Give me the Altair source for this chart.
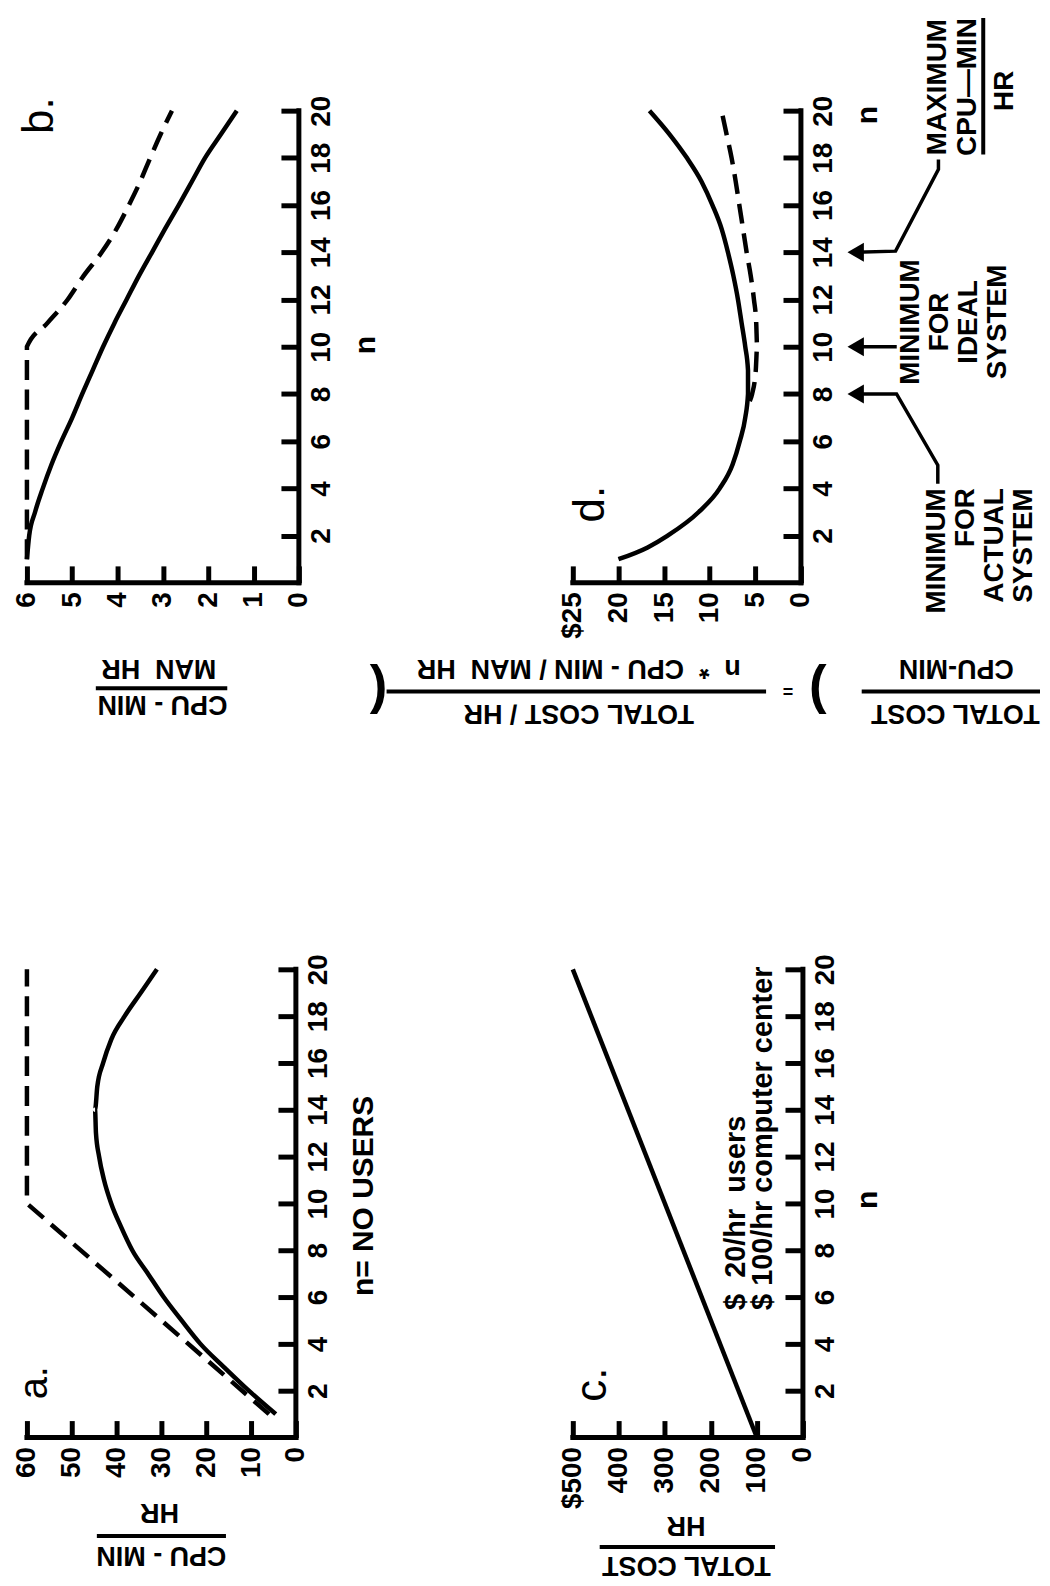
import altair as alt
import pandas as pd

FONT = "Liberation Sans"

# ---------------- data ----------------
N_TICKS = [2, 4, 6, 8, 10, 12, 14, 16, 18, 20]

# panel a : CPU-MIN / HR
A_TICKS = [0, 10, 20, 30, 40, 50, 60]
A_LABELS = ["0", "10", "20", "30", "40", "50", "60"]
A_ACTUAL_N = [1, 2, 3, 4, 5, 6, 7, 8, 9, 10, 11, 12, 13, 14, 15, 16, 17, 18, 19, 20]
A_ACTUAL_V = [4.5, 10.5, 16.0, 21.3, 25.5, 29.5, 33.0, 36.5, 39.0, 41.2,
              42.8, 43.9, 44.6, 44.8, 44.3, 43.0, 41.2, 38.2, 34.6, 31.0]
A_IDEAL_N = [1, 10, 20]
A_IDEAL_V = [6, 60, 60]

# panel b : CPU-MIN / MAN HR
B_TICKS = [0, 1, 2, 3, 4, 5, 6]
B_LABELS = ["0", "1", "2", "3", "4", "5", "6"]
B_ACTUAL_N = [1, 2, 3, 4, 5, 6, 7, 8, 9, 10, 11, 12, 13, 14, 15, 16, 17, 18, 19, 20]
B_ACTUAL_V = [6.0, 5.95, 5.82, 5.65, 5.46, 5.24, 5.0, 4.78, 4.55, 4.32,
              4.07, 3.8, 3.53, 3.24, 2.95, 2.65, 2.36, 2.07, 1.72, 1.37]
B_IDEAL_N = [1, 10, 11, 12, 13, 14, 15, 16, 17, 18, 19, 20]
B_IDEAL_V = [6.0, 6.0, 5.55, 5.1, 4.75, 4.35, 4.02, 3.75, 3.5, 3.28, 3.05, 2.8]

# panel c : TOTAL COST / HR
C_TICKS = [0, 100, 200, 300, 400, 500]
C_LABELS = ["0", "100", "200", "300", "400", "$500"]
C_COST_N = [0, 20]
C_COST_V = [100, 500]

# panel d : TOTAL COST / CPU-MIN
D_TICKS = [0, 5, 10, 15, 20, 25]
D_LABELS = ["0", "5", "10", "15", "20", "$25"]
D_ACTUAL_N = [1, 1.5, 2, 3, 4, 5, 6, 7, 8, 9, 10, 11, 12, 13, 14, 15, 16, 17, 18, 19, 20]
D_ACTUAL_V = [20.0, 16.8, 14.6, 11.2, 8.9, 7.5, 6.7, 6.1, 5.8, 5.8, 6.1,
              6.5, 6.9, 7.4, 8.0, 8.7, 9.7, 10.9, 12.5, 14.4, 16.6]
D_IDEAL_N = [7.7, 8, 9, 10, 11, 12, 13, 14, 15, 16, 17, 18, 19, 20]
D_IDEAL_V = [5.6, 5.35, 4.95, 4.8, 4.9, 5.15, 5.5, 5.95, 6.35, 6.75, 7.15, 7.6, 8.15, 8.7]

# annotation anchors (value, n) in each panel's data units
A_LETTER = [("a.", 55.6, 2.34)]
A_TITLE = [("HR", 30.4, -2.85), ("CPU - MIN", 30.0, -4.68)]
A_BAR = [(44.4, 15.6, -4.21)]

B_LETTER = [("b.", 5.43, 19.79)]
B_TITLE = [("MAN\u00a0\u00a0HR", 3.09, -3.25), ("CPU - MIN", 3.01, -4.81)]
B_BAR = [(4.48, 1.58, -4.47)]

C_LETTER = [("c.", 428.6, 2.26)]
C_TITLE = [("HR", 254, -3.40), ("TOTAL COST", 253, -5.11)]
C_BAR = [(441.6, 60.6, -4.68)]
C_NOTE = [("$\u00a0\u00a020/hr\u00a0\u00a0users\n$ 100/hr computer center", 125.5, 5.45)]

D_LETTER = [("d.", 21.6, 3.33)]
D_TITLE = [("n\u00a0\u00a0*\u00a0\u00a0CPU - MIN / MAN\u00a0\u00a0HR", 24.34, -3.29),
           ("TOTAL\u00a0COST / HR", 24.34, -5.19),
           ("CPU-MIN", -17.03, -3.29),
           ("TOTAL COST", -16.92, -5.19)]
D_BAR = [(45.41, 3.82, -4.6), (-6.66, -26.2, -4.6)]
D_PARENS = [(")", 46.3, -4.43), ("(", -1.86, -4.43)]
D_EQUALS = [("=", 1.42, -4.56)]
D_MAX = [("MAXIMUM\nCPU\u2014MIN", -15.94, 21.0), ("HR", -23.25, 20.84)]
D_MAX_BAR = [(-19.98, 23.92, 18.14)]
D_IDEAL_NOTE = [("MINIMUM\nFOR\nIDEAL\nSYSTEM", -12.99, 11.05)]
D_ACTUAL_NOTE = [("MINIMUM\nFOR\nACTUAL\nSYSTEM", -15.83, 4.01)]
D_PATHS = [("max", 0, -15.07, 17.93), ("max", 1, -15.07, 17.51), ("max", 2, -10.37, 14.05), ("max", 3, -6.0, 14.0),
           ("ideal", 0, -10.5, 10.0), ("ideal", 1, -6.0, 10.0),
           ("act", 0, -15.0, 4.2), ("act", 1, -15.0, 4.98), ("act", 2, -10.48, 8.0), ("act", 3, -6.0, 8.0)]
D_ARROWS = [(-6.0, 14), (-6.0, 10), (-6.0, 8)]


# ---------------- helpers ----------------
def lab_expr(ticks, labels):
    return f"{labels}[indexof({ticks}, datum.value)]"


def value_axis(ticks, labels):
    return alt.Axis(values=ticks, orient="bottom", offset=-17, tickSize=17, tickWidth=5,
                    tickColor="black", domain=False, grid=False,
                    labelAngle=270, labelAlign="right", labelBaseline="middle", labelPadding=9,
                    labelFont=FONT, labelFontSize=28, labelFontWeight="bold", labelColor="black",
                    labelFlush=False, labelOverlap=False, labelBound=False,
                    labelExpr=lab_expr(ticks, labels), title=None)


def n_axis(title, tx, ty):
    return alt.Axis(values=N_TICKS, orient="right", offset=-18, tickSize=18, tickWidth=5,
                    tickColor="black", domain=False, grid=False,
                    labelAngle=270, labelAlign="center", labelBaseline="top", labelPadding=9,
                    labelFont=FONT, labelFontSize=28, labelFontWeight="bold", labelColor="black",
                    labelFlush=False, labelOverlap=False, labelBound=False,
                    title=title, titleAngle=270, titleX=tx, titleY=ty, titleAlign="center",
                    titleBaseline="alphabetic", titleFont=FONT, titleFontSize=30,
                    titleFontWeight="bold", titleColor="black")


def text_layer(items, X, Y, **mk):
    df = pd.DataFrame(items, columns=["label", "v", "n"])
    return alt.Chart(df).mark_text(font=FONT, color="black", **mk).encode(x=X, y=Y, text="label:N")


def hbar_layer(items, X, Y, width=4):
    df = pd.DataFrame(items, columns=["v", "v2", "n"])
    return alt.Chart(df).mark_rule(color="black", strokeWidth=width).encode(x=X, x2="v2:Q", y=Y)


def vbar_layer(items, X, Y, width=4):
    df = pd.DataFrame(items, columns=["v", "n", "n2"])
    return alt.Chart(df).mark_rule(color="black", strokeWidth=width).encode(x=X, y=Y, y2="n2:Q")


def curve_layer(ns, vs, X, Y, dashed=False, interp="monotone"):
    df = pd.DataFrame({"n": ns, "v": vs})
    mk = dict(color="black", strokeWidth=4.5, interpolate=interp)
    if dashed:
        mk["strokeDash"] = [20, 10]
    return alt.Chart(df).mark_line(**mk).encode(x=X, y=Y, order=alt.Order("n:Q"))


def panel(vmax, width, height, ticks, labels, n_title, tx, ty, curves, letter, title, bars,
          extra=None, letter_size=44):
    xs = alt.Scale(domain=[0, vmax], reverse=True, nice=False, zero=False)
    ys = alt.Scale(domain=[0, 20], nice=False, zero=False)
    X = alt.X("v:Q", scale=xs, axis=value_axis(ticks, labels))
    Y = alt.Y("n:Q", scale=ys, axis=n_axis(n_title, tx, ty))
    layers = [
        alt.Chart(pd.DataFrame({"v": [0], "v2": [vmax], "n": [0]})).mark_rule(
            color="black", strokeWidth=5, strokeCap="square").encode(x=X, x2="v2:Q", y=Y),
        alt.Chart(pd.DataFrame({"v": [0], "n": [0], "n2": [20]})).mark_rule(
            color="black", strokeWidth=5, strokeCap="square").encode(x=X, y=Y, y2="n2:Q"),
    ]
    for ns, vs, dashed, interp in curves:
        layers.append(curve_layer(ns, vs, X, Y, dashed, interp))
    layers.append(text_layer(letter, X, Y, fontSize=letter_size, angle=270, align="center",
                             baseline="alphabetic"))
    layers.append(text_layer(title, X, Y, fontSize=27, fontWeight="bold", angle=180,
                             align="center", baseline="alphabetic"))
    layers.append(hbar_layer(bars, X, Y, 4))
    if extra:
        layers.extend(extra(X, Y))
    return alt.layer(*layers).properties(width=width, height=height)


def c_extra(X, Y):
    return [text_layer(C_NOTE, X, Y, fontSize=29, fontWeight="bold", angle=270, align="left",
                       baseline="alphabetic", lineBreak="\n", lineHeight=27)]


def d_extra(X, Y):
    paths = pd.DataFrame(D_PATHS, columns=["pid", "k", "v", "n"])
    arrows = pd.DataFrame(D_ARROWS, columns=["v", "n"])
    return [
        text_layer(D_PARENS, X, Y, fontSize=53, fontWeight="bold", align="center", baseline="middle"),
        text_layer(D_EQUALS, X, Y, fontSize=18, fontWeight="bold", angle=180, align="center",
                   baseline="middle"),
        text_layer(D_MAX, X, Y, fontSize=28, fontWeight="bold", angle=270, align="center",
                   baseline="alphabetic", lineBreak="\n", lineHeight=30),
        vbar_layer(D_MAX_BAR, X, Y, 4),
        text_layer(D_IDEAL_NOTE, X, Y, fontSize=28, fontWeight="bold", angle=270, align="center",
                   baseline="alphabetic", lineBreak="\n", lineHeight=29),
        text_layer(D_ACTUAL_NOTE, X, Y, fontSize=28, fontWeight="bold", angle=270, align="right",
                   baseline="alphabetic", lineBreak="\n", lineHeight=29),
        alt.Chart(paths).mark_line(color="black", strokeWidth=3.5).encode(
            x=X, y=Y, detail="pid:N", order=alt.Order("k:Q")),
        alt.Chart(arrows).mark_point(shape="triangle-left", size=360, filled=True, color="black",
                                     opacity=1, strokeWidth=0).encode(x=X, y=Y),
    ]


panel_b = panel(6, 273, 474, B_TICKS, B_LABELS, "n", 94, 235,
                [(B_ACTUAL_N, B_ACTUAL_V, False, "monotone"), (B_IDEAL_N, B_IDEAL_V, True, "monotone")],
                B_LETTER, B_TITLE, B_BAR)
panel_d = panel(25, 229, 474, D_TICKS, D_LABELS, "n", 94, 4,
                [(D_ACTUAL_N, D_ACTUAL_V, False, "monotone"), (D_IDEAL_N, D_IDEAL_V, True, "monotone")],
                D_LETTER, D_TITLE, D_BAR, d_extra)
panel_a = panel(60, 270, 470, A_TICKS, A_LABELS, "n= NO USERS", 95, 227,
                [(A_ACTUAL_N, A_ACTUAL_V, False, "monotone"), (A_IDEAL_N, A_IDEAL_V, True, "linear")],
                A_LETTER, A_TITLE, A_BAR, letter_size=40)
panel_c = panel(500, 231, 470, C_TICKS, C_LABELS, "n", 92, 231,
                [(C_COST_N, C_COST_V, False, "linear")],
                C_LETTER, C_TITLE, C_BAR, c_extra)

chart = alt.concat(panel_b, panel_d, panel_a, panel_c, columns=2,
                   spacing={"row": 388, "column": 275}, bounds="flush", align="none").properties(
    padding={"left": 5, "top": 5, "right": 0, "bottom": 0}, background="white"
).configure_view(stroke=None)

chart.save("out.html", embed_options={"renderer": "svg", "actions": False})
